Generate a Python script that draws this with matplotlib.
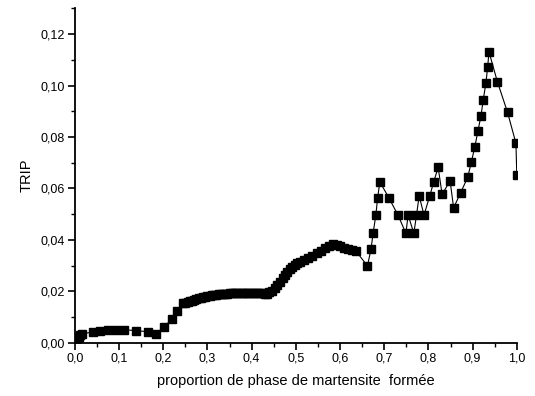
import matplotlib
matplotlib.use("Agg")
import matplotlib.pyplot as plt
from matplotlib.ticker import MultipleLocator, FuncFormatter

plt.rcParams['font.family'] = ['Liberation Sans', 'DejaVu Sans']

x_low = [0.000, 0.003, 0.006, 0.009, 0.012, 0.017, 0.040, 0.057, 0.075, 0.093,
         0.112, 0.139, 0.166, 0.183, 0.202, 0.219, 0.231, 0.245]
y_low = [0.0003, 0.0010, 0.0018, 0.0025, 0.0030, 0.0036, 0.0042, 0.0047, 0.0050, 0.0052,
         0.0051, 0.0048, 0.0043, 0.0035, 0.0062, 0.0093, 0.0123, 0.0154]

x_mid = [0.250, 0.255, 0.260, 0.265, 0.270, 0.275, 0.280, 0.285, 0.290, 0.295,
         0.300, 0.305, 0.310, 0.315, 0.320, 0.325, 0.330, 0.335, 0.340, 0.345,
         0.350, 0.355, 0.360, 0.365, 0.370, 0.375, 0.380, 0.385, 0.390, 0.395,
         0.400, 0.405, 0.410, 0.415, 0.420, 0.425, 0.430, 0.435]
y_mid = [0.0155, 0.0158, 0.0161, 0.0164, 0.0167, 0.0170, 0.0173, 0.0176, 0.0178, 0.0180,
         0.0182, 0.0184, 0.0185, 0.0187, 0.0188, 0.0189, 0.0190, 0.0191, 0.0192, 0.0192,
         0.0193, 0.0193, 0.0194, 0.0194, 0.0194, 0.0195, 0.0195, 0.0195, 0.0195, 0.0195,
         0.0195, 0.0195, 0.0194, 0.0194, 0.0193, 0.0193, 0.0192, 0.0192]

x_rise = [0.440, 0.446, 0.452, 0.458, 0.464, 0.470, 0.475, 0.480, 0.486, 0.491,
          0.497, 0.503, 0.509, 0.518, 0.528, 0.537, 0.547, 0.556, 0.566, 0.575,
          0.584, 0.592, 0.600, 0.609, 0.618, 0.627, 0.636]
y_rise = [0.0196, 0.0203, 0.0212, 0.0224, 0.0238, 0.0251, 0.0264, 0.0275, 0.0286, 0.0296,
          0.0304, 0.0310, 0.0316, 0.0322, 0.0329, 0.0338, 0.0348, 0.0357, 0.0367, 0.0376,
          0.0384, 0.0380, 0.0375, 0.0370, 0.0365, 0.0361, 0.0357]

x_high = [0.662, 0.670, 0.675, 0.681, 0.685, 0.690, 0.711, 0.731, 0.749, 0.754,
          0.767, 0.773, 0.779, 0.790, 0.803, 0.812, 0.822, 0.831, 0.849, 0.857,
          0.873, 0.889, 0.897, 0.905, 0.912, 0.919, 0.924, 0.930, 0.934, 0.937,
          0.956, 0.979, 0.998, 1.000]
y_high = [0.0299, 0.0364, 0.0428, 0.0497, 0.0562, 0.0626, 0.0562, 0.0497, 0.0426, 0.0497,
          0.0426, 0.0497, 0.0571, 0.0497, 0.0571, 0.0626, 0.0682, 0.0577, 0.0630, 0.0525,
          0.0584, 0.0644, 0.0702, 0.0762, 0.0823, 0.0883, 0.0944, 0.1009, 0.1071, 0.1131,
          0.1015, 0.0896, 0.0776, 0.0652]

x = x_low + x_mid + x_rise + x_high
y = y_low + y_mid + y_rise + y_high

fig = plt.figure(figsize=(5.35, 3.96), dpi=100)
ax = fig.add_axes([0.140, 0.134, 0.826, 0.845])
ax.plot(x, y, color='black', linewidth=0.8, marker='s', markersize=5.6,
        markerfacecolor='black', markeredgecolor='black')

ax.set_xlim(0, 1.0)
ax.set_ylim(0, 0.13)
ax.spines['top'].set_visible(False)
ax.spines['right'].set_visible(False)
for s in ('left', 'bottom'):
    ax.spines[s].set_linewidth(1.3)

ax.xaxis.set_major_locator(MultipleLocator(0.1))
ax.xaxis.set_minor_locator(MultipleLocator(0.05))
ax.yaxis.set_major_locator(MultipleLocator(0.02))
ax.yaxis.set_minor_locator(MultipleLocator(0.01))
ax.xaxis.set_major_formatter(FuncFormatter(lambda v, p: f"{v:.1f}".replace('.', ',')))
ax.yaxis.set_major_formatter(FuncFormatter(lambda v, p: f"{v:.2f}".replace('.', ',')))
ax.tick_params(which='major', direction='out', length=5, width=1.2, labelsize=9, pad=2)
ax.tick_params(which='minor', direction='out', length=3, width=1.0)

ax.set_xlabel('proportion de phase de martensite  formée', fontsize=10.5, labelpad=7)
ax.set_ylabel('TRIP', fontsize=10.5, labelpad=5)

fig.savefig('out.png', dpi=100)
